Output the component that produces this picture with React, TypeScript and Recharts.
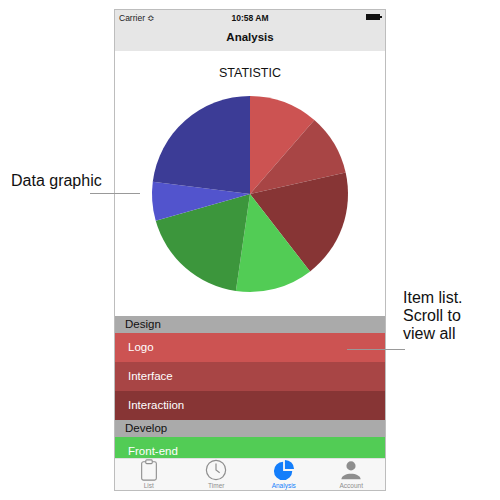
import { Cell, Pie, PieChart } from 'recharts'

// share of time per task (clockwise from 12 o'clock)
const CATEGORIES = ['Logo', 'Interface', 'Interactiion', 'Front-end', 'Back-end', 'Meeting', 'Study']
const VALUES = [11.4, 10.1, 18.0, 12.8, 18.3, 6.4, 23.0]
const GROUPS = ['Design', 'Design', 'Design', 'Develop', 'Develop', 'Other', 'Other']
const TABS = ['List', 'Timer', 'Analysis', 'Account']

const COLORS = ['#cc5352', '#a84545', '#873535', '#52cc55', '#3c963c', '#5254cd', '#3c3c96']

const FONT = '"Liberation Sans", Arial, Helvetica, sans-serif'

const data = CATEGORIES.map((name, i) => ({ name, value: VALUES[i], group: GROUPS[i] }))

// list rows shown in the (scrolled) table: group headers + items
const rows: { type: 'head' | 'item'; label: string; color?: string }[] = []
data.forEach((d, i) => {
  if (i === 0 || GROUPS[i - 1] !== d.group) rows.push({ type: 'head', label: d.group })
  rows.push({ type: 'item', label: d.name, color: COLORS[i] })
})
const ROW_H = { head: 17, item: 29 }

function TabIcon({ name, active }: { name: string; active: boolean }) {
  const c = active ? '#147efb' : '#8e8e8e'
  if (name === 'List')
    return (
      <svg width="20" height="22" viewBox="0 0 20 24">
        <rect x="2" y="3" width="16" height="20" rx="2" fill="none" stroke={c} strokeWidth="1.2" />
        <rect x="6.5" y="1" width="7" height="4" rx="1" fill="#f7f7f7" stroke={c} strokeWidth="1.2" />
      </svg>
    )
  if (name === 'Timer')
    return (
      <svg width="22" height="22" viewBox="0 0 24 24">
        <circle cx="12" cy="12" r="10.5" fill="none" stroke={c} strokeWidth="1.3" />
        <path d="M12 5 V12 L16 15" fill="none" stroke={c} strokeWidth="1.3" />
      </svg>
    )
  if (name === 'Analysis')
    return (
      <svg width="22" height="22" viewBox="0 0 24 24">
        <path d="M11 3 A10 10 0 1 0 21 13 L11 13 Z" fill={c} />
        <path d="M13 1 A10 10 0 0 1 23 11 L13 11 Z" fill={c} />
      </svg>
    )
  return (
    <svg width="22" height="22" viewBox="0 0 24 24">
      <circle cx="12" cy="7.5" r="5" fill={c} />
      <path d="M1.5 22 C2 14 22 14 22.5 22 Z" fill={c} />
    </svg>
  )
}

export default function App() {
  let y = 306
  return (
    <div style={{ position: 'fixed', left: 0, top: 0, width: 500, height: 500, background: '#fff', fontFamily: FONT }}>
      {/* phone frame */}
      <div
        style={{
          position: 'absolute',
          left: 114,
          top: 9,
          width: 272,
          height: 482,
          border: '1px solid #bdbdbd',
          boxSizing: 'border-box',
          overflow: 'hidden',
          background: '#fff',
        }}
      >
        {/* status + nav bar */}
        <div style={{ position: 'absolute', left: 0, top: 0, width: 270, height: 41, background: '#e6e6e6' }}>
          <div style={{ position: 'absolute', left: 4, top: 3, fontSize: 8.5, color: '#222' }}>Carrier ≎</div>
          <div style={{ position: 'absolute', left: 0, top: 3, width: 270, textAlign: 'center', fontSize: 8.5, fontWeight: 'bold', color: '#111' }}>
            10:58 AM
          </div>
          <div style={{ position: 'absolute', left: 251, top: 4, width: 14, height: 6, background: '#111' }} />
          <div style={{ position: 'absolute', left: 265, top: 6, width: 1.5, height: 2, background: '#111' }} />
          <div style={{ position: 'absolute', left: 0, top: 21, width: 270, textAlign: 'center', fontSize: 11.5, fontWeight: 'bold', color: '#111' }}>
            Analysis
          </div>
        </div>

        {/* chart */}
        <div style={{ position: 'absolute', left: 0, top: 56, width: 270, textAlign: 'center', fontSize: 12.5, color: '#111' }}>STATISTIC</div>
        <div style={{ position: 'absolute', left: 0, top: 41 }}>
          <PieChart width={270} height={265} margin={{ top: 0, right: 0, bottom: 0, left: 0 }}>
            <Pie
              data={data}
              dataKey="value"
              nameKey="name"
              cx={135}
              cy={143}
              outerRadius={98}
              startAngle={90}
              endAngle={-270}
              stroke="none"
              isAnimationActive={false}
            >
              {data.map((d, i) => (
                <Cell key={d.name} fill={COLORS[i]} />
              ))}
            </Pie>
          </PieChart>
        </div>

        {/* item list */}
        {rows.map((r, i) => {
          const h = ROW_H[r.type]
          const top = y
          y += h
          if (top > 448) return null
          return (
            <div
              key={i}
              style={{
                position: 'absolute',
                left: 0,
                top,
                width: 270,
                height: h,
                background: r.type === 'head' ? '#aaaaaa' : r.color,
                color: r.type === 'head' ? '#111' : '#fff',
                fontSize: 11.5,
                lineHeight: `${h}px`,
                paddingLeft: r.type === 'head' ? 10 : 13,
                boxSizing: 'border-box',
              }}
            >
              {r.label}
            </div>
          )
        })}

        {/* tab bar */}
        <div style={{ position: 'absolute', left: 0, top: 448, width: 270, height: 34, background: '#f7f7f7', borderTop: '1px solid #e0e0e0' }}>
          {TABS.map((t, i) => (
            <div key={t} style={{ position: 'absolute', left: i * 67.5, top: 0, width: 67.5, textAlign: 'center', lineHeight: 1 }}>
              <TabIcon name={t} active={t === 'Analysis'} />
              <div style={{ fontSize: 6.5, marginTop: -1, color: t === 'Analysis' ? '#147efb' : '#8e8e8e' }}>{t}</div>
            </div>
          ))}
        </div>
      </div>

      {/* annotations */}
      <div style={{ position: 'absolute', left: 11, top: 172, fontSize: 16, color: '#111' }}>Data graphic</div>
      <div style={{ position: 'absolute', left: 90, top: 193, width: 50, height: 1, background: '#999' }} />
      <div style={{ position: 'absolute', left: 403, top: 289, fontSize: 16, lineHeight: '18px', color: '#111' }}>
        Item list.
        <br />
        Scroll to
        <br />
        view all
      </div>
      <div style={{ position: 'absolute', left: 347, top: 349, width: 58, height: 1, background: '#999' }} />
    </div>
  )
}
